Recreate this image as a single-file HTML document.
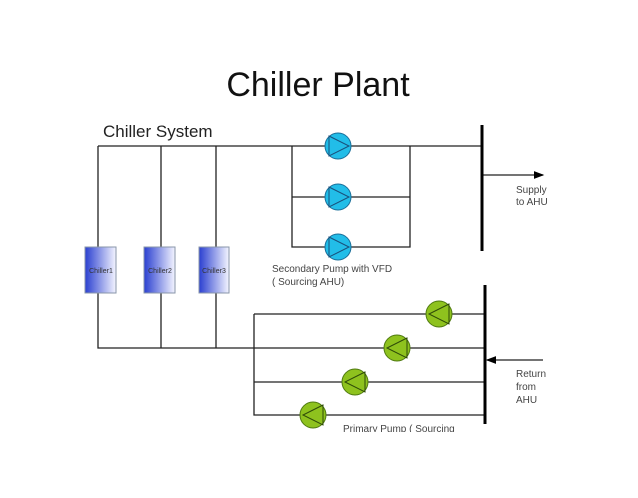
<!DOCTYPE html>
<html><head><style>body{margin:0;background:#fff}</style></head><body>
<svg width="638" height="493" xmlns="http://www.w3.org/2000/svg" font-family="Liberation Sans, sans-serif">
<defs>
<linearGradient id="cg" x1="0" x2="1"><stop offset="0" stop-color="#2a3fd0"/><stop offset="1" stop-color="#f4f5ff"/></linearGradient>
<marker id="ah" markerWidth="8" markerHeight="8" refX="7" refY="4" orient="auto"><path d="M0,1 L8,4 L0,7 z" fill="#000"/></marker>
<clipPath id="clip"><rect x="0" y="0" width="638" height="432"/></clipPath>
</defs>
<text x="318" y="96" font-size="34" text-anchor="middle" fill="#111">Chiller Plant</text>
<text x="103" y="137" font-size="17" fill="#222">Chiller System</text>
<g stroke="#222" stroke-width="1.3" fill="none">
<path d="M98 146H482 M98 146V348H485 M161 146V348 M216 146V348"/>
<path d="M292 146V247H410V146 M292 197H410"/>
<path d="M254 314V415H485 M254 314H485 M254 382H485"/>
<path d="M482 175H543" marker-end="url(#ah)"/>
<path d="M543 360H487" marker-end="url(#ah)"/>
</g>
<rect x="480.5" y="125" width="3" height="126" fill="#000"/>
<rect x="483.5" y="285" width="3" height="139" fill="#000"/>
<g stroke="#8896aa" stroke-width="1">
<rect x="85" y="247" width="31" height="46" fill="url(#cg)"/>
<rect x="144" y="247" width="31" height="46" fill="url(#cg)"/>
<rect x="199" y="247" width="30" height="46" fill="url(#cg)"/>
</g>
<g font-size="7" fill="#333" text-anchor="middle">
<text x="101" y="273">Chiller1</text><text x="160" y="273">Chiller2</text><text x="214" y="273">Chiller3</text>
</g>
<g fill="#22bde8" stroke="#1a6f9a" stroke-width="1">
<circle cx="338" cy="146" r="13"/><circle cx="338" cy="197" r="13"/><circle cx="338" cy="247" r="13"/>
</g>
<g fill="none" stroke="#1a4f7a" stroke-width="1">
<path d="M329 136L349 146L329 156Z"/><path d="M329 187L349 197L329 207Z"/><path d="M329 237L349 247L329 257Z"/>
</g>
<g fill="#8ec21e" stroke="#4f7a10" stroke-width="1">
<circle cx="439" cy="314" r="13"/><circle cx="397" cy="348" r="13"/><circle cx="355" cy="382" r="13"/><circle cx="313" cy="415" r="13"/>
</g>
<g fill="none" stroke="#2d4a08" stroke-width="1">
<path d="M449 304L429 314L449 324Z"/><path d="M407 338L387 348L407 358Z"/><path d="M365 372L345 382L365 392Z"/><path d="M323 405L303 415L323 425Z"/>
</g>
<g font-size="10" fill="#444">
<text x="516" y="193">Supply</text><text x="516" y="205">to AHU</text>
<text x="272" y="272">Secondary Pump with VFD</text><text x="272" y="285">( Sourcing AHU)</text>
<text x="516" y="377">Return</text><text x="516" y="390">from</text><text x="516" y="403">AHU</text>
<text x="343" y="432" clip-path="url(#clip)">Primary Pump ( Sourcing</text>
</g>
</svg>
</body></html>
